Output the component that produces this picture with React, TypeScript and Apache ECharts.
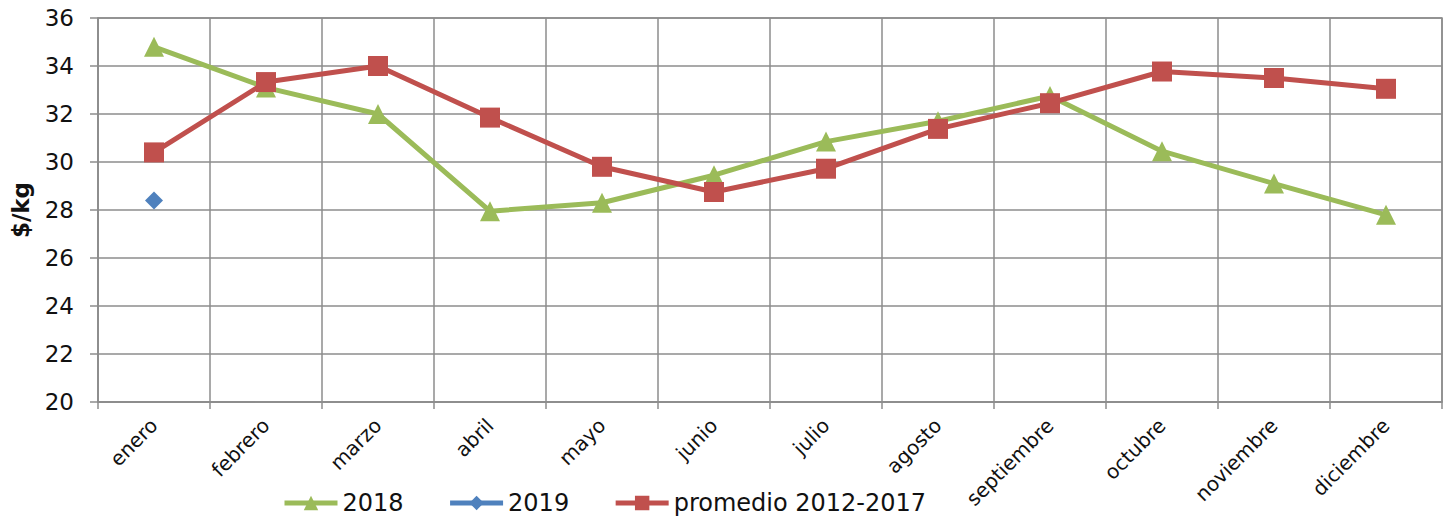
import React, { useEffect, useRef } from "react";
import * as echarts from "echarts";

const categories = ["enero", "febrero", "marzo", "abril", "mayo", "junio", "julio", "agosto", "septiembre", "octubre", "noviembre", "diciembre"];
const serie2018 = [34.8, 33.1, 32.0, 27.95, 28.3, 29.45, 30.85, 31.7, 32.75, 30.45, 29.1, 27.8];
const serie2019: (number | null)[] = [28.4, null, null, null, null, null, null, null, null, null, null, null];
const promedio = [30.4, 33.33, 34.0, 31.85, 29.8, 28.75, 29.72, 31.38, 32.45, 33.77, 33.5, 33.05];
const yTicks = { min: 20, max: 36, interval: 2 };

const FONT = "DejaVu Sans";
const GRID_COLOR = "#8c8c8c";

export default function App() {
  const ref = useRef<HTMLDivElement>(null);
  useEffect(() => {
    if (!ref.current) return;
    const chart = echarts.init(ref.current, null, { renderer: "svg" });
    chart.setOption({
      animation: false,
      backgroundColor: "#ffffff",
      textStyle: { fontFamily: FONT },
      grid: { left: 98, right: 12, top: 18, bottom: 116, show: true, borderColor: GRID_COLOR, borderWidth: 1.5 },
      legend: {
        top: 491,
        left: 282,
        padding: 0,
        itemWidth: 53,
        itemHeight: 18,
        itemGap: 44,
        lineStyle: { width: 5 },
        textStyle: { fontFamily: FONT, fontSize: 24, lineHeight: 24, color: "#111" },
        data: ["2018", "2019", "promedio 2012-2017"],
      },
      xAxis: {
        type: "category",
        data: categories,
        boundaryGap: true,
        axisLine: { lineStyle: { color: GRID_COLOR, width: 1.5 } },
        axisTick: { show: true, length: 7, lineStyle: { color: GRID_COLOR, width: 1.5 } },
        splitLine: { show: true, lineStyle: { color: GRID_COLOR, width: 1.5 } },
        axisLabel: { rotate: 45, fontSize: 20, color: "#111", margin: 20, fontFamily: FONT, interval: 0 },
      },
      yAxis: {
        type: "value",
        min: yTicks.min,
        max: yTicks.max,
        interval: yTicks.interval,
        name: "$/kg",
        nameLocation: "middle",
        nameGap: 66,
        nameTextStyle: { fontSize: 23, fontWeight: "bold", color: "#111", fontFamily: FONT },
        axisLine: { show: true, lineStyle: { color: GRID_COLOR, width: 1.5 } },
        axisTick: { show: true, length: 8, lineStyle: { color: GRID_COLOR, width: 1.5 } },
        splitLine: { show: true, lineStyle: { color: GRID_COLOR, width: 1.5 } },
        axisLabel: { fontSize: 23, color: "#111", margin: 24, fontFamily: FONT },
      },
      series: [
        {
          name: "2018",
          type: "line",
          data: serie2018,
          color: "#9BBB59",
          lineStyle: { width: 5 },
          symbol: "triangle",
          symbolSize: 20,
          z: 2,
        },
        {
          name: "2019",
          type: "line",
          data: serie2019,
          color: "#4F81BD",
          lineStyle: { width: 5 },
          symbol: "diamond",
          symbolSize: 18,
          z: 3,
        },
        {
          name: "promedio 2012-2017",
          type: "line",
          data: promedio,
          color: "#C0504D",
          lineStyle: { width: 5 },
          symbol: "rect",
          symbolSize: 20,
          z: 4,
        },
      ],
    });
    return () => chart.dispose();
  }, []);
  return <div ref={ref} style={{ position: "fixed", left: 0, top: 0, width: 1454, height: 518 }} />;
}
